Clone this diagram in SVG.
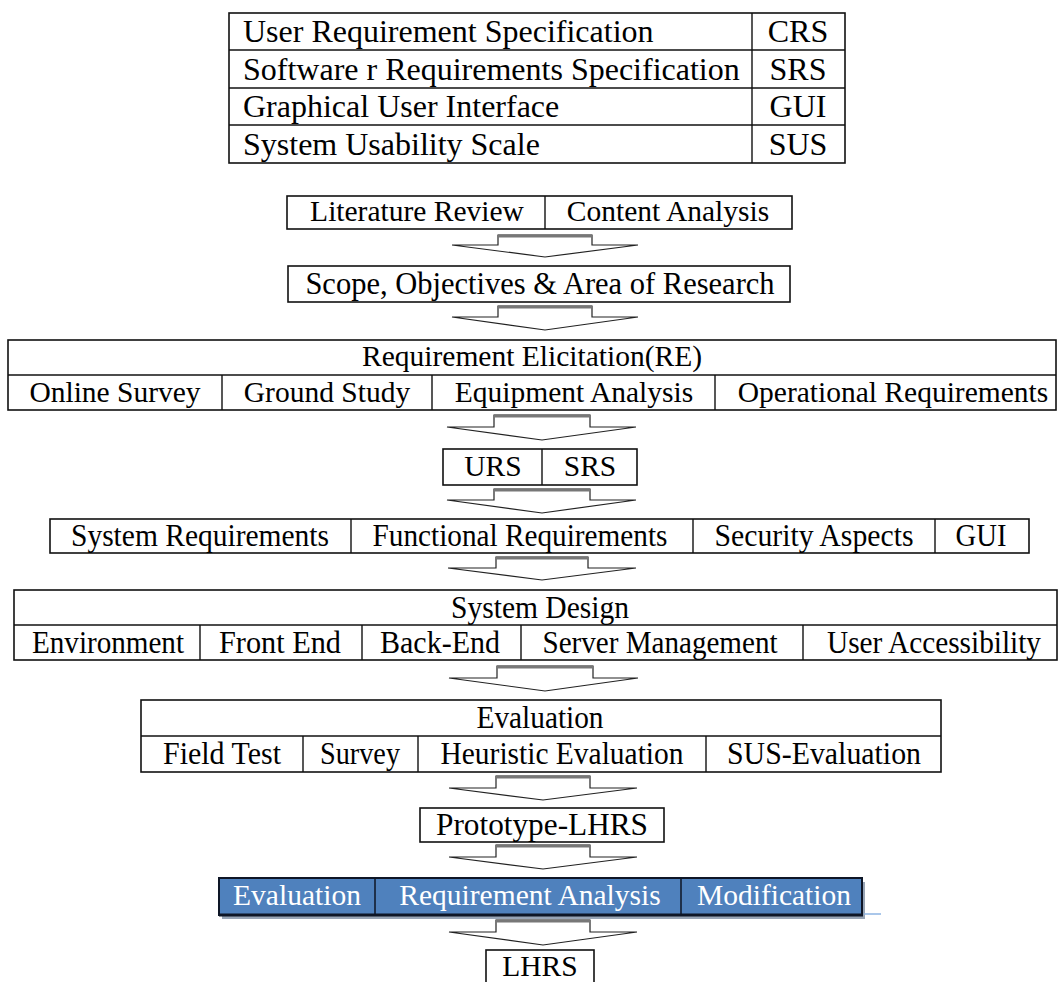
<svg xmlns="http://www.w3.org/2000/svg" width="1059" height="982" viewBox="0 0 1059 982">
<style>
.t{font-family:"Liberation Serif","Times New Roman",serif;fill:#000}
.tab{font-size:32px}
.f{font-size:29.5px}
.c{font-size:32px}
.m{text-anchor:middle}
.box{fill:#fff;stroke:#111;stroke-width:1.6}
.ln{stroke:#111;stroke-width:1.4}
.arr{fill:#fff;stroke:#222;stroke-width:1.2;stroke-linejoin:miter}
.stemtop{stroke:#777;stroke-width:3}
.w{fill:#fff}
</style>
<rect width="1059" height="982" fill="#fff"/>

<g id="abbrev-table">
<rect class="box" x="229" y="13" width="616" height="150" stroke-width="2"/>
<line class="ln" x1="229" y1="50" x2="845" y2="50"/>
<line class="ln" x1="229" y1="88" x2="845" y2="88"/>
<line class="ln" x1="229" y1="125" x2="845" y2="125"/>
<line class="ln" x1="752" y1="13" x2="752" y2="163"/>
<text class="t tab" x="243" y="42">User Requirement Specification</text>
<text class="t tab" x="243" y="80">Software r Requirements Specification</text>
<text class="t tab" x="243" y="117">Graphical User Interface</text>
<text class="t tab" x="243" y="155">System Usability Scale</text>
<text class="t tab m" x="798" y="42">CRS</text>
<text class="t tab m" x="798" y="80">SRS</text>
<text class="t tab m" x="798" y="117">GUI</text>
<text class="t tab m" x="798" y="155">SUS</text>
</g>

<g id="n1-literature">
<rect class="box" x="287" y="196" width="505" height="33"/>
<line class="ln" x1="545" y1="196" x2="545" y2="229"/>
<text class="t f m" x="417" y="221">Literature Review</text>
<text class="t f m" x="668" y="221">Content Analysis</text>
</g>

<g id="n2-scope">
<rect class="box" x="288" y="266" width="502" height="36"/>
<text class="t f m" x="540" y="294" style="font-size:30.5px">Scope, Objectives &amp; Area of Research</text>
</g>

<g id="n3-re">
<rect class="box" x="8" y="340" width="1048" height="70"/>
<line class="ln" x1="8" y1="375" x2="1056" y2="375"/>
<line class="ln" x1="222" y1="375" x2="222" y2="410"/>
<line class="ln" x1="432" y1="375" x2="432" y2="410"/>
<line class="ln" x1="715" y1="375" x2="715" y2="410"/>
<text class="t f m" x="532" y="366">Requirement Elicitation(RE)</text>
<text class="t f m" x="115" y="402">Online Survey</text>
<text class="t f m" x="327" y="402">Ground Study</text>
<text class="t f m" x="574" y="402">Equipment Analysis</text>
<text class="t f m" x="893" y="402">Operational Requirements</text>
</g>

<g id="n4-urs-srs">
<rect class="box" x="443" y="449" width="194" height="36"/>
<line class="ln" x1="542" y1="449" x2="542" y2="485"/>
<text class="t f m" x="493" y="476">URS</text>
<text class="t f m" x="590" y="476">SRS</text>
</g>

<g id="n5-requirements">
<rect class="box" x="50" y="519" width="979" height="34"/>
<line class="ln" x1="351" y1="519" x2="351" y2="553"/>
<line class="ln" x1="693" y1="519" x2="693" y2="553"/>
<line class="ln" x1="935" y1="519" x2="935" y2="553"/>
<text class="t c m" x="200" y="546" textLength="258" lengthAdjust="spacingAndGlyphs">System Requirements</text>
<text class="t c m" x="520" y="546" textLength="295" lengthAdjust="spacingAndGlyphs">Functional Requirements</text>
<text class="t c m" x="814" y="546" textLength="199" lengthAdjust="spacingAndGlyphs">Security Aspects</text>
<text class="t c m" x="981" y="546" textLength="51" lengthAdjust="spacingAndGlyphs">GUI</text>
</g>

<g id="n6-system-design">
<rect class="box" x="14" y="590" width="1043" height="70"/>
<line class="ln" x1="14" y1="625" x2="1057" y2="625"/>
<line class="ln" x1="200" y1="625" x2="200" y2="660"/>
<line class="ln" x1="362" y1="625" x2="362" y2="660"/>
<line class="ln" x1="521" y1="625" x2="521" y2="660"/>
<line class="ln" x1="803" y1="625" x2="803" y2="660"/>
<text class="t c m" x="540" y="618" textLength="178" lengthAdjust="spacingAndGlyphs">System Design</text>
<text class="t c m" x="108" y="653" textLength="152" lengthAdjust="spacingAndGlyphs">Environment</text>
<text class="t c m" x="280" y="653" textLength="122" lengthAdjust="spacingAndGlyphs">Front End</text>
<text class="t c m" x="440" y="653" textLength="120" lengthAdjust="spacingAndGlyphs">Back-End</text>
<text class="t c m" x="660" y="653" textLength="235" lengthAdjust="spacingAndGlyphs">Server Management</text>
<text class="t c m" x="934" y="653" textLength="214" lengthAdjust="spacingAndGlyphs">User Accessibility</text>
</g>

<g id="n7-evaluation">
<rect class="box" x="141" y="700" width="800" height="72"/>
<line class="ln" x1="141" y1="736" x2="941" y2="736"/>
<line class="ln" x1="303" y1="736" x2="303" y2="772"/>
<line class="ln" x1="418" y1="736" x2="418" y2="772"/>
<line class="ln" x1="706" y1="736" x2="706" y2="772"/>
<text class="t c m" x="540" y="728" textLength="127" lengthAdjust="spacingAndGlyphs">Evaluation</text>
<text class="t c m" x="222" y="764" textLength="118" lengthAdjust="spacingAndGlyphs">Field Test</text>
<text class="t c m" x="360" y="764" textLength="80" lengthAdjust="spacingAndGlyphs">Survey</text>
<text class="t c m" x="562" y="764" textLength="243" lengthAdjust="spacingAndGlyphs">Heuristic Evaluation</text>
<text class="t c m" x="824" y="764" textLength="194" lengthAdjust="spacingAndGlyphs">SUS-Evaluation</text>
</g>

<g id="n8-prototype">
<rect class="box" x="420" y="808" width="244" height="34"/>
<text class="t c m" x="542" y="835" textLength="212" lengthAdjust="spacingAndGlyphs">Prototype-LHRS</text>
</g>

<g id="n9-iteration">
<rect x="222" y="882" width="643" height="37" fill="#6b7d96" opacity="0.7"/>
<rect x="219" y="878" width="643" height="37" fill="#4f81bd" stroke="#0e1626" stroke-width="2"/>
<line x1="219" y1="915" x2="863" y2="915" stroke="#0e1626" stroke-width="3"/>
<line x1="375" y1="878" x2="375" y2="915" stroke="#0e1626" stroke-width="1.5"/>
<line x1="681" y1="878" x2="681" y2="915" stroke="#0e1626" stroke-width="1.5"/>
<line x1="864" y1="914" x2="881" y2="914" stroke="#8eb4e3" stroke-width="1.5"/>
<text class="t f m w" x="297" y="905">Evaluation</text>
<text class="t f m w" x="530" y="905">Requirement Analysis</text>
<text class="t f m w" x="774" y="905">Modification</text>
</g>

<g id="n10-lhrs">
<rect class="box" x="486" y="950" width="108" height="40"/>
<text class="t f m" x="540" y="976">LHRS</text>
</g>

<g id="connectors">
<path class="arr" d="M498,245 V235 H592 V245 H638 L545,257 L452,245 Z"/>
<line class="stemtop" x1="498" y1="236" x2="592" y2="236"/>
<path class="arr" d="M498,317 V306 H592 V317 H638 L545,330 L452,317 Z"/>
<line class="stemtop" x1="498" y1="307" x2="592" y2="307"/>
<path class="arr" d="M494,427 V415 H590 V427 H636 L542,440 L447,427 Z"/>
<line class="stemtop" x1="494" y1="416" x2="590" y2="416"/>
<path class="arr" d="M494,500 V489 H590 V500 H636 L542,513 L447,500 Z"/>
<line class="stemtop" x1="494" y1="490" x2="590" y2="490"/>
<path class="arr" d="M496,568 V557 H588 V568 H636 L542,580 L448,568 Z"/>
<line class="stemtop" x1="496" y1="558" x2="588" y2="558"/>
<path class="arr" d="M497,678 V666 H593 V678 H638 L545,691 L449,678 Z"/>
<line class="stemtop" x1="497" y1="667" x2="593" y2="667"/>
<path class="arr" d="M496,788 V776 H590 V788 H637 L543,800 L449,788 Z"/>
<line class="stemtop" x1="496" y1="777" x2="590" y2="777"/>
<path class="arr" d="M496,857 V845 H590 V857 H637 L543,869 L449,857 Z"/>
<line class="stemtop" x1="496" y1="846" x2="590" y2="846"/>
<path class="arr" d="M496,932 V920 H590 V932 H637 L543,945 L449,932 Z"/>
<line class="stemtop" x1="496" y1="921" x2="590" y2="921"/>
</g>
</svg>
